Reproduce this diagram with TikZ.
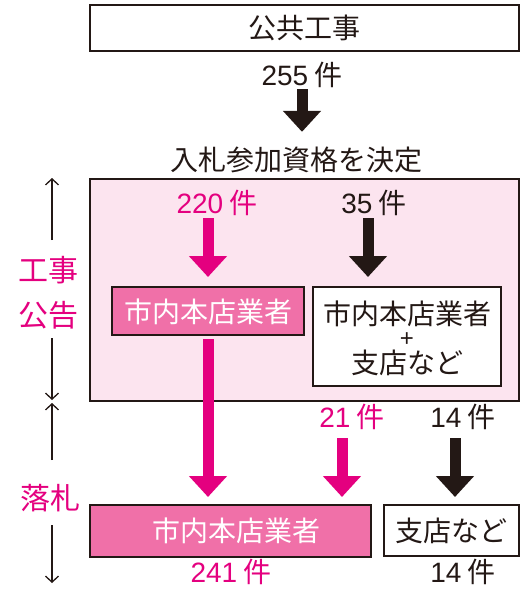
\documentclass[tikz,border=0pt]{standalone}
\usepackage{fontspec}
\setmainfont{Noto Sans CJK JP}
\newfontfamily\lf{Liberation Sans}
\usetikzlibrary{arrows.meta}
\definecolor{mag}{HTML}{E4007F}
\definecolor{pinkfill}{HTML}{F070A8}
\definecolor{lightpink}{HTML}{FCE4EF}
\definecolor{ink}{HTML}{231815}
\tikzset{
  txt/.style={font=\fontsize{28}{30}\selectfont, text=ink, inner sep=0pt},
  ptxt/.style={txt, text=mag},
  whitebox/.style={draw=ink, line width=1.4pt, fill=white},
  pinkbox/.style={draw=ink, line width=1.4pt, fill=pinkfill},
  fat/.style={line width=11pt, -{Triangle[width=37pt,length=21pt]}},
  fatblack/.style={fat, draw=ink},
  fatpink/.style={fat, draw=mag},
  sidearrow/.style={line width=1.3pt, draw=ink, -{Straight Barb[length=6pt,width=13pt]}},
}
\begin{document}
\begin{tikzpicture}[x=1pt,y=-1pt]
\useasboundingbox (0,0) rectangle (525,589);
% boxes
\draw[whitebox] (90,5) rectangle (519,51);
\node[txt] (top) at (304.5,28) {公共工事};
\node[txt] (n255) at (302,75) {{\lf 255} 件};
\node[txt] (decide) at (296,160) {入札参加資格を決定};
\draw[draw=ink, line width=1.4pt, fill=lightpink] (90,179) rectangle (519,401);
\node[ptxt] (n220) at (217,203) {{\lf 220} 件};
\node[txt] (n35) at (374,203) {{\lf 35} 件};
\draw[pinkbox] (112,287) rectangle (304,335);
\node[txt, text=white] (pbox1) at (208,312) {市内本店業者};
\coordinate (pbox1top) at (208,287);
\coordinate (pbox1bot) at (208,335);
\draw[whitebox] (313,287) rectangle (501,386);
\node[txt] (wbox1a) at (407,314) {市内本店業者};
\node[txt, font=\lf\fontsize{24}{24}\selectfont, text height=14pt, text depth=0pt] (plus) at (407,339) {+};
\node[txt] (wbox1b) at (407,363) {支店など};
\coordinate (wbox1top) at (368,287);
\node[ptxt] (n21) at (352,417) {{\lf 21} 件};
\node[txt] (n14a) at (463,417) {{\lf 14} 件};
\draw[pinkbox] (90,505) rectangle (371,557);
\node[txt, text=white] (pbox2) at (236,531) {市内本店業者};
\draw[whitebox] (384,505) rectangle (519,556);
\node[txt] (wbox2) at (451.5,531) {支店など};
\node[ptxt] (n241) at (231,572) {{\lf 241} 件};
\node[txt] (n14b) at (463,572) {{\lf 14} 件};
% side labels
\node[ptxt, font=\fontsize{30}{32}\selectfont] (kouji) at (48,270) {工事};
\node[ptxt, font=\fontsize{30}{32}\selectfont] (koukoku) at (48,315) {公告};
\node[ptxt, font=\fontsize{30}{32}\selectfont] (rakusatsu) at (50,498) {落札};
\coordinate (s1) at (52,178);
\coordinate (s2) at (52,400);
\coordinate (s3) at (52,403);
\coordinate (s4) at (52,583);
\draw[sidearrow] (52,240) -- (s1);
\draw[sidearrow] (52,338) -- (s2);
\draw[sidearrow] (52,460) -- (s3);
\draw[sidearrow] (52,525) -- (s4);
% fat arrows
\draw[fatblack, shorten >=15pt] (302,89) -- (decide.north -| 302,0);
\draw[fatpink, shorten >=10pt] (pbox1top |- n220.south) ++(0,2) -- (pbox1top);
\draw[fatblack, shorten >=10pt] (wbox1top |- n35.south) ++(0,2) -- (wbox1top);
\draw[fatpink, shorten <=4pt, shorten >=8pt] (pbox1bot) -- (pbox1bot |- 0,505);
\draw[fatpink, shorten >=8pt] (342,438) -- (342,505);
\draw[fatblack, shorten >=8pt] (455,438) -- (455,505);
\end{tikzpicture}
\end{document}
